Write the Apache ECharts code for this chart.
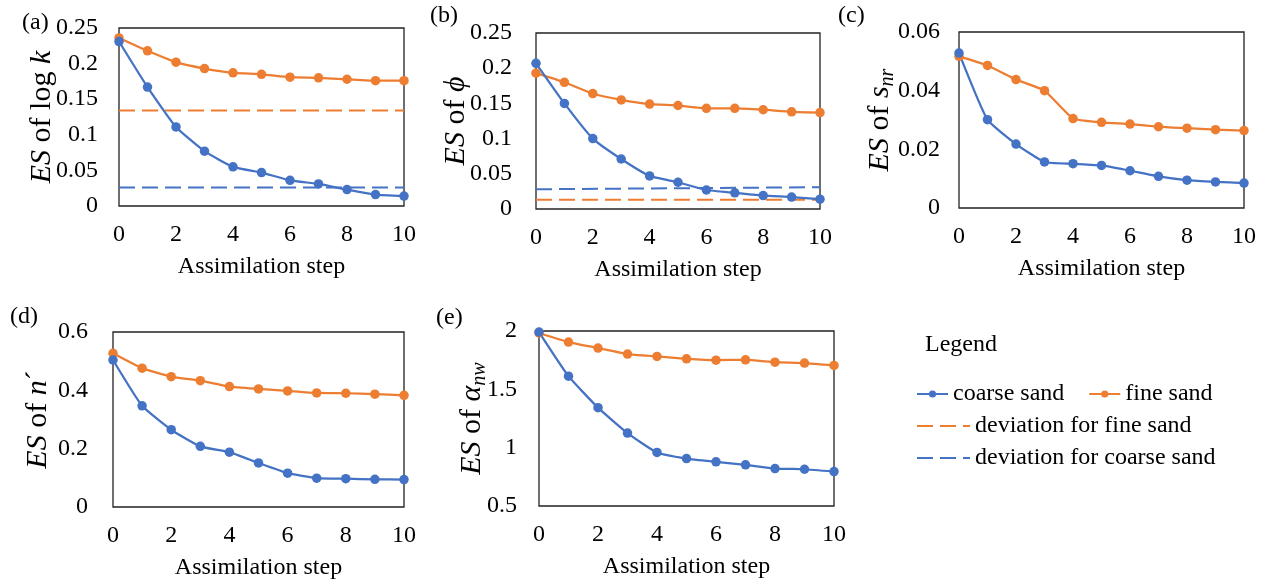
<!DOCTYPE html>
<html>
<head>
<meta charset="utf-8">
<script src="https://cdn.jsdelivr.net/npm/echarts@6/dist/echarts.min.js"></script>
<style>
html,body{margin:0;padding:0;background:#fff;}
#chart{width:1264px;height:583px;}
</style>
</head>
<body>
<div id="chart"></div>
<script>
// ---------------- data ----------------
const steps = [0, 1, 2, 3, 4, 5, 6, 7, 8, 9, 10];

const coarseA = [0.231, 0.167, 0.111, 0.077, 0.055, 0.047, 0.036, 0.031, 0.023, 0.016, 0.014];
const fineA   = [0.236, 0.218, 0.202, 0.193, 0.187, 0.185, 0.181, 0.180, 0.178, 0.176, 0.176];
const devFineA   = [0.134, 0.134];
const devCoarseA = [0.026, 0.026];

const coarseB = [0.207, 0.150, 0.100, 0.071, 0.047, 0.038, 0.027, 0.023, 0.019, 0.017, 0.014];
const fineB   = [0.193, 0.180, 0.164, 0.155, 0.149, 0.147, 0.143, 0.143, 0.141, 0.138, 0.137];
const devFineB   = [0.013, 0.013];
const devCoarseB = [0.028, 0.031];

const coarseC = [0.0528, 0.0301, 0.0218, 0.0157, 0.0151, 0.0145, 0.0127, 0.0108, 0.0095, 0.0089, 0.0085];
const fineC   = [0.0517, 0.0486, 0.0438, 0.0400, 0.0305, 0.0292, 0.0286, 0.0277, 0.0272, 0.0267, 0.0264];

const coarseD = [0.504, 0.347, 0.265, 0.208, 0.188, 0.151, 0.116, 0.099, 0.097, 0.095, 0.094];
const fineD   = [0.527, 0.476, 0.447, 0.433, 0.413, 0.405, 0.398, 0.391, 0.390, 0.387, 0.383];

const coarseE = [1.991, 1.613, 1.343, 1.125, 0.959, 0.907, 0.879, 0.853, 0.821, 0.815, 0.795];
const fineE   = [1.983, 1.905, 1.854, 1.802, 1.782, 1.762, 1.750, 1.753, 1.733, 1.725, 1.705];

const panelLabels = ['(a)', '(b)', '(c)', '(d)', '(e)'];
const yNames = [
  '{i|ES} of log {i|k}',
  '{i|ES} of {i|ϕ}',
  '{i|ES} of {i|s}{sub|nr}',
  '{i|ES} of {i|n}´',
  '{i|ES} of {i|α}{sub|nw}'
];
const xName = 'Assimilation step';
const seriesNames = ['coarse sand', 'fine sand', 'deviation for fine sand', 'deviation for coarse sand'];

// ---------------- styling / layout ----------------
const FONT = '"Liberation Serif", "Times New Roman", serif';
const BLUE = '#4472C4';
const ORANGE = '#ED7D31';

const grids = [
  {left: 119, top: 28,  width: 285, height: 178},
  {left: 536, top: 33,  width: 284, height: 176},
  {left: 959, top: 32,  width: 285, height: 176},
  {left: 113, top: 332, width: 291, height: 175},
  {left: 539, top: 331, width: 295, height: 175}
];
const yRanges = [
  {min: 0, max: 0.25, interval: 0.05},
  {min: 0, max: 0.25, interval: 0.05},
  {min: 0, max: 0.06, interval: 0.02},
  {min: 0, max: 0.6, interval: 0.2},
  {min: 0.5, max: 2, interval: 0.5}
];
const yLabelMargins = [21, 24, 19, 25, 22];
const yNameGaps = [59, 62, 61, 57, 49];
const labelPos = [[22, 11], [430, 4], [838, 4], [10, 305], [436, 306]];

const richStyles = {
  i: {fontFamily: FONT, fontSize: 30, fontStyle: 'italic', color: '#000', lineHeight: 36, verticalAlign: 'middle'},
  sub: {fontFamily: FONT, fontSize: 20, fontStyle: 'italic', color: '#000', lineHeight: 36, verticalAlign: 'bottom'}
};

function pairs(arr) { return arr.map((v, i) => [steps[i], v]); }
function devPairs(arr) { return [[steps[0], arr[0]], [steps[steps.length - 1], arr[1]]]; }

const xAxes = grids.map((g, k) => ({
  type: 'value', gridIndex: k, min: 0, max: 10, interval: 2,
  name: xName, nameLocation: 'middle', nameGap: 49, nameMoveOverlap: false,
  nameTextStyle: {fontFamily: FONT, fontSize: 24, color: '#000'},
  axisLine: {show: false}, axisTick: {show: false}, splitLine: {show: false},
  axisLabel: {fontFamily: FONT, fontSize: 24, color: '#000', margin: 17}
}));
const yAxes = grids.map((g, k) => ({
  type: 'value', gridIndex: k, min: yRanges[k].min, max: yRanges[k].max, interval: yRanges[k].interval,
  name: yNames[k], nameLocation: 'middle', nameGap: yNameGaps[k], nameRotate: 90, nameMoveOverlap: false,
  nameTextStyle: {fontFamily: FONT, fontSize: 30, color: '#000', lineHeight: 36, rich: richStyles},
  axisLine: {show: false}, axisTick: {show: false}, splitLine: {show: false},
  axisLabel: {fontFamily: FONT, fontSize: 24, color: '#000', margin: yLabelMargins[k]}
}));

function solid(name, color, data, k) {
  return {
    name, type: 'line', xAxisIndex: k, yAxisIndex: k, data: pairs(data),
    smooth: 0.15, symbol: 'circle', symbolSize: 9.5,
    lineStyle: {color, width: 2.25}, itemStyle: {color},
    animation: false, z: 3
  };
}
function dashed(name, color, data, k) {
  return {
    name, type: 'line', xAxisIndex: k, yAxisIndex: k, data: devPairs(data),
    symbol: 'none', lineStyle: {color, width: 2, type: [16, 7]}, itemStyle: {color},
    animation: false, z: 2
  };
}

const series = [
  dashed(seriesNames[2], ORANGE, devFineA, 0),
  dashed(seriesNames[3], BLUE, devCoarseA, 0),
  solid(seriesNames[1], ORANGE, fineA, 0),
  solid(seriesNames[0], BLUE, coarseA, 0),
  dashed(seriesNames[2], ORANGE, devFineB, 1),
  dashed(seriesNames[3], BLUE, devCoarseB, 1),
  solid(seriesNames[1], ORANGE, fineB, 1),
  solid(seriesNames[0], BLUE, coarseB, 1),
  solid(seriesNames[1], ORANGE, fineC, 2),
  solid(seriesNames[0], BLUE, coarseC, 2),
  solid(seriesNames[1], ORANGE, fineD, 3),
  solid(seriesNames[0], BLUE, coarseD, 3),
  solid(seriesNames[1], ORANGE, fineE, 4),
  solid(seriesNames[0], BLUE, coarseE, 4)
];

const legendText = {fontFamily: FONT, fontSize: 24, color: '#000'};
const legends = [
  {data: [seriesNames[0], seriesNames[1]], left: 916, top: 382, itemWidth: 31, itemHeight: 9, itemGap: 24},
  {data: [{name: seriesNames[2], itemStyle: {opacity: 0}}], left: 916, top: 414, itemWidth: 53, itemHeight: 9},
  {data: [{name: seriesNames[3], itemStyle: {opacity: 0}}], left: 916, top: 446, itemWidth: 53, itemHeight: 9}
].map(l => Object.assign({orient: 'horizontal', padding: 0, textStyle: legendText, selectedMode: false}, l));

const graphics = panelLabels.map((t, k) => ({
  type: 'text', left: labelPos[k][0], top: labelPos[k][1],
  style: {text: t, font: '24px ' + FONT, fill: '#000'}
}));
graphics.push({type: 'text', left: 925, top: 333, style: {text: 'Legend', font: '24px ' + FONT, fill: '#000'}});

const chart = echarts.init(document.getElementById('chart'), null, {renderer: 'canvas'});
chart.setOption({
  backgroundColor: '#fff',
  animation: false,
  grid: grids.map(g => Object.assign({show: true, borderColor: '#222', borderWidth: 1.3, backgroundColor: 'transparent', containLabel: false}, g)),
  xAxis: xAxes,
  yAxis: yAxes,
  legend: legends,
  graphic: graphics,
  series
});
</script>
</body>
</html>
